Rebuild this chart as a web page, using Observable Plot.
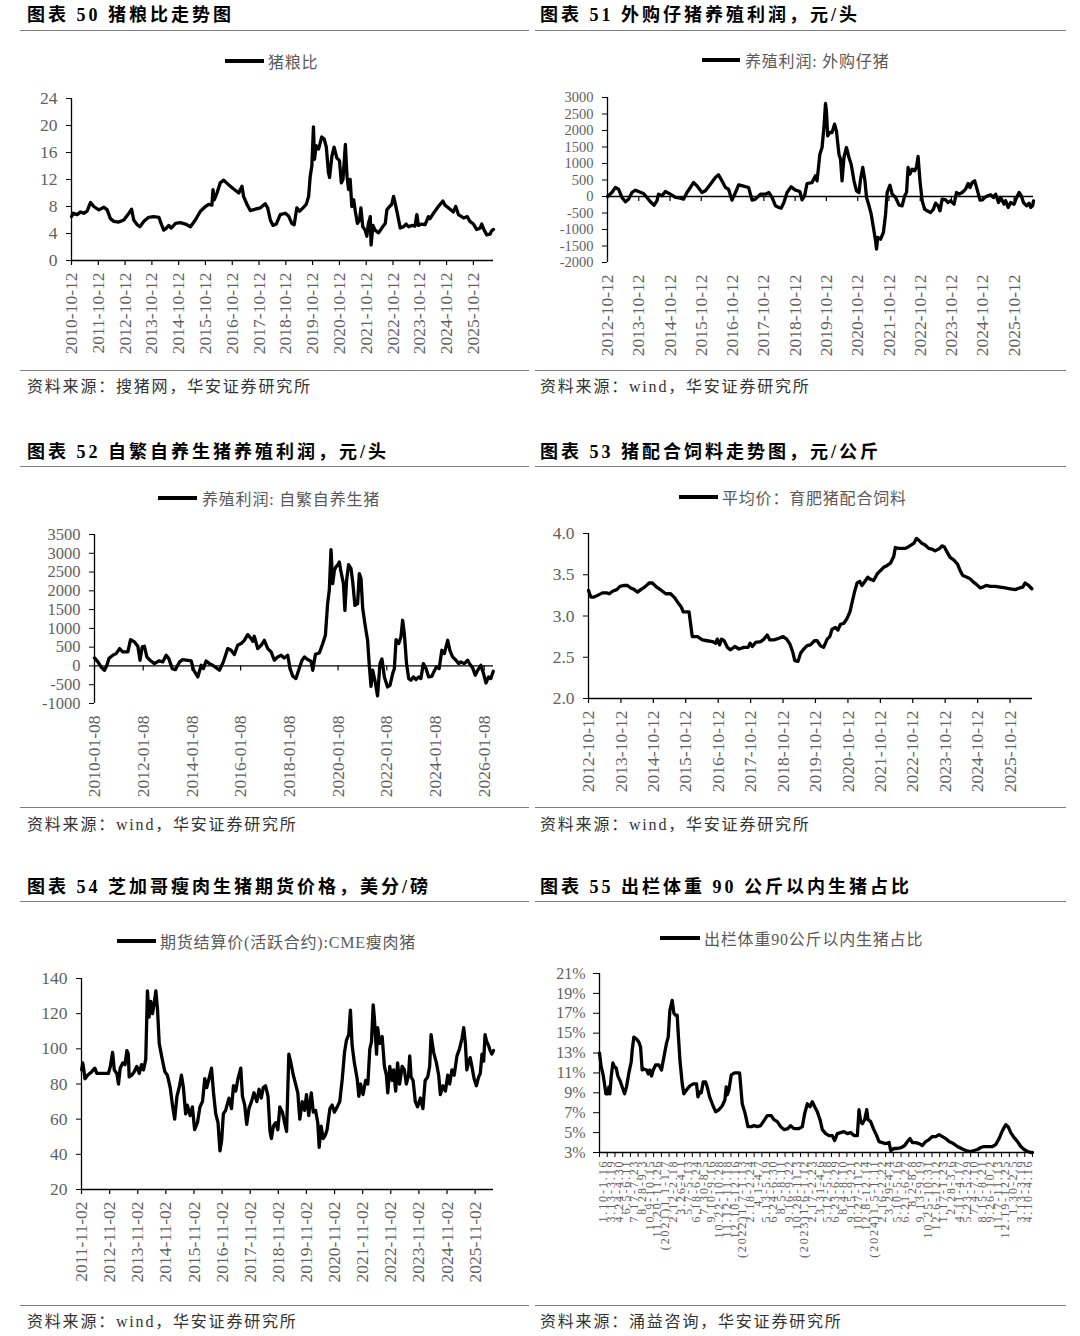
<!DOCTYPE html>
<html><head><meta charset="utf-8">
<script src="https://cdn.jsdelivr.net/npm/d3@7"></script>
<script src="https://cdn.jsdelivr.net/npm/@observablehq/plot@0.6"></script>
<style>
body{margin:0;background:#fff;}
#page{position:relative;width:1080px;height:1336px;overflow:hidden;font-family:"Liberation Serif","Noto Sans CJK SC",serif;background:#fff;}
.title{position:absolute;font-size:18px;font-weight:bold;color:#000;letter-spacing:3px;white-space:nowrap;line-height:24px;height:24px;}
.rule{position:absolute;height:0;border-top:1.6px solid #7f7f7f;}
.src{position:absolute;font-size:16px;color:#333;letter-spacing:1.8px;white-space:nowrap;line-height:24px;height:24px;}
.legend{position:absolute;font-size:16px;color:#595959;white-space:nowrap;display:flex;align-items:center;height:24px;letter-spacing:0.8px;}
.legend .sw{display:inline-block;height:3.4px;background:#000;}
#page svg{position:absolute;}
</style></head>
<body><div id="page"></div>
<script>
// ---------------- DATA ----------------
// 图表50 猪粮比 [decimal year, value]
const pigGrainRatio = [[2010.78,6.5],[2010.84,7.0],[2010.99,6.8],[2011.12,7.2],[2011.24,7.0],[2011.36,7.3],[2011.49,8.6],[2011.61,8.0],[2011.80,7.5],[2011.99,7.9],[2012.11,7.5],[2012.23,6.2],[2012.36,5.8],[2012.54,5.7],[2012.73,6.0],[2012.92,7.0],[2013.02,7.6],[2013.10,6.0],[2013.23,5.3],[2013.33,5.0],[2013.48,5.8],[2013.66,6.4],[2013.85,6.5],[2014.04,6.4],[2014.12,5.5],[2014.22,4.5],[2014.32,4.8],[2014.41,5.2],[2014.50,4.8],[2014.66,5.5],[2014.84,5.6],[2015.03,5.4],[2015.22,5.0],[2015.40,6.0],[2015.59,7.3],[2015.78,8.0],[2015.90,8.3],[2016.02,8.2],[2016.06,10.5],[2016.11,9.0],[2016.21,10.0],[2016.33,11.5],[2016.46,11.9],[2016.65,11.2],[2016.83,10.6],[2017.02,10.0],[2017.14,11.0],[2017.20,9.5],[2017.33,8.3],[2017.45,7.4],[2017.64,7.6],[2017.83,7.8],[2018.01,8.4],[2018.10,7.8],[2018.20,6.0],[2018.30,5.2],[2018.42,5.4],[2018.57,6.8],[2018.76,7.0],[2018.88,6.6],[2019.00,5.5],[2019.09,5.3],[2019.19,7.8],[2019.29,7.3],[2019.42,7.8],[2019.54,8.3],[2019.63,9.5],[2019.69,12.5],[2019.75,14.0],[2019.81,19.8],[2019.85,15.0],[2019.91,17.0],[2020.00,16.5],[2020.12,18.3],[2020.21,18.0],[2020.29,16.8],[2020.37,13.0],[2020.41,12.3],[2020.50,15.5],[2020.58,16.8],[2020.68,15.2],[2020.78,14.8],[2020.85,11.5],[2020.91,12.0],[2021.00,17.2],[2021.06,12.5],[2021.12,10.5],[2021.18,12.0],[2021.24,8.0],[2021.31,9.0],[2021.37,7.3],[2021.45,5.5],[2021.53,6.0],[2021.58,7.8],[2021.65,5.0],[2021.74,4.5],[2021.80,3.6],[2021.86,5.5],[2021.93,6.5],[2021.96,2.3],[2022.03,5.2],[2022.11,4.5],[2022.24,4.1],[2022.36,4.8],[2022.49,5.5],[2022.55,7.5],[2022.65,8.0],[2022.73,8.3],[2022.80,9.5],[2022.86,8.5],[2022.95,6.8],[2023.05,4.8],[2023.17,5.0],[2023.27,5.4],[2023.36,5.0],[2023.48,5.2],[2023.60,5.1],[2023.67,6.8],[2023.73,5.2],[2023.85,5.4],[2023.98,5.3],[2024.10,6.5],[2024.16,6.2],[2024.29,7.0],[2024.47,8.0],[2024.64,8.8],[2024.72,8.2],[2024.91,7.6],[2025.03,7.2],[2025.12,8.0],[2025.22,6.8],[2025.41,6.3],[2025.55,6.5],[2025.65,5.8],[2025.78,5.4],[2025.90,4.6],[2026.03,4.8],[2026.09,5.4],[2026.18,4.5],[2026.28,3.8],[2026.40,3.9],[2026.46,4.4],[2026.53,4.6]];
const ticks50 = ["2010-10-12","2011-10-12","2012-10-12","2013-10-12","2014-10-12","2015-10-12","2016-10-12","2017-10-12","2018-10-12","2019-10-12","2020-10-12","2021-10-12","2022-10-12","2023-10-12","2024-10-12","2025-10-12"];
const yTicks50 = [0,4,8,12,16,20,24];

// 图表51 外购仔猪养殖利润
const profitPiglet = [[2012.78,0],[2012.92,121],[2013.03,273],[2013.13,222],[2013.24,-30],[2013.35,-162],[2013.45,-81],[2013.56,121],[2013.67,192],[2013.77,152],[2013.93,91],[2014.04,-30],[2014.15,-162],[2014.27,-263],[2014.36,-131],[2014.41,71],[2014.52,20],[2014.63,152],[2014.79,71],[2014.95,-30],[2015.11,-51],[2015.21,-81],[2015.32,121],[2015.43,273],[2015.53,424],[2015.64,323],[2015.80,121],[2015.91,172],[2016.07,374],[2016.23,576],[2016.33,657],[2016.44,475],[2016.55,273],[2016.65,222],[2016.76,-111],[2016.87,121],[2016.97,354],[2017.13,313],[2017.29,273],[2017.40,-111],[2017.51,-81],[2017.67,71],[2017.83,71],[2017.94,121],[2018.04,-30],[2018.15,-283],[2018.26,-333],[2018.33,-354],[2018.42,-182],[2018.52,121],[2018.65,293],[2018.79,192],[2018.93,152],[2019.00,-101],[2019.08,20],[2019.16,394],[2019.32,424],[2019.43,626],[2019.48,475],[2019.57,1283],[2019.64,1485],[2019.70,2091],[2019.75,2818],[2019.78,2596],[2019.82,1838],[2019.89,1939],[2019.96,1939],[2020.04,2192],[2020.10,1990],[2020.18,1283],[2020.23,1131],[2020.28,475],[2020.34,1182],[2020.42,1485],[2020.50,1182],[2020.57,980],[2020.66,475],[2020.74,172],[2020.82,121],[2020.87,525],[2020.94,879],[2021.01,475],[2021.06,-30],[2021.14,-283],[2021.21,-535],[2021.28,-939],[2021.35,-1343],[2021.38,-1596],[2021.42,-1242],[2021.51,-1293],[2021.60,-1091],[2021.67,-535],[2021.72,121],[2021.81,343],[2021.88,71],[2021.99,-30],[2022.10,-263],[2022.20,-283],[2022.28,20],[2022.34,121],[2022.39,879],[2022.45,677],[2022.52,828],[2022.60,778],[2022.66,899],[2022.71,1212],[2022.77,475],[2022.84,-131],[2022.92,-384],[2023.00,-434],[2023.11,-485],[2023.20,-384],[2023.27,-202],[2023.35,-283],[2023.41,-434],[2023.48,-81],[2023.59,-101],[2023.67,-182],[2023.75,-131],[2023.86,-232],[2023.94,121],[2024.02,71],[2024.12,121],[2024.23,222],[2024.31,394],[2024.37,273],[2024.44,424],[2024.52,475],[2024.61,172],[2024.69,-111],[2024.77,-101],[2024.84,-30],[2024.93,20],[2025.03,51],[2025.12,-30],[2025.19,71],[2025.28,-182],[2025.35,-30],[2025.46,-232],[2025.51,-131],[2025.59,-333],[2025.67,-182],[2025.78,-232],[2025.86,-30],[2025.94,121],[2026.01,20],[2026.08,-182],[2026.18,-283],[2026.26,-202],[2026.31,-333],[2026.37,-283],[2026.40,-131]];
const ticks51 = ["2012-10-12","2013-10-12","2014-10-12","2015-10-12","2016-10-12","2017-10-12","2018-10-12","2019-10-12","2020-10-12","2021-10-12","2022-10-12","2023-10-12","2024-10-12","2025-10-12"];
const yTicks51 = [-2000,-1500,-1000,-500,0,500,1000,1500,2000,2500,3000];

// 图表52 自繁自养生猪养殖利润
const profitSelf = [[2010.02,213],[2010.16,107],[2010.29,-27],[2010.43,-115],[2010.53,18],[2010.61,195],[2010.77,284],[2010.91,328],[2011.05,462],[2011.18,373],[2011.29,373],[2011.39,373],[2011.50,701],[2011.66,639],[2011.80,524],[2011.89,151],[2011.98,506],[2012.07,524],[2012.17,240],[2012.30,151],[2012.48,62],[2012.66,133],[2012.82,107],[2012.96,284],[2013.07,195],[2013.21,-71],[2013.34,-98],[2013.51,107],[2013.64,169],[2013.85,151],[2013.99,133],[2014.08,-98],[2014.26,-293],[2014.40,18],[2014.49,-71],[2014.60,133],[2014.74,62],[2014.87,18],[2015.01,-44],[2015.15,-115],[2015.31,107],[2015.49,462],[2015.63,417],[2015.76,302],[2015.90,550],[2016.04,595],[2016.17,683],[2016.31,834],[2016.45,728],[2016.52,657],[2016.58,790],[2016.72,462],[2016.86,550],[2016.99,683],[2017.13,462],[2017.27,373],[2017.40,151],[2017.54,240],[2017.68,284],[2017.81,213],[2017.95,284],[2018.05,-71],[2018.16,-275],[2018.29,-337],[2018.40,-115],[2018.54,151],[2018.64,240],[2018.77,169],[2018.91,124],[2018.98,-115],[2019.09,311],[2019.25,346],[2019.39,595],[2019.50,817],[2019.59,1660],[2019.66,2015],[2019.73,3098],[2019.80,2192],[2019.87,2547],[2019.93,2636],[2020.00,2681],[2020.07,2769],[2020.14,2503],[2020.24,2192],[2020.30,1482],[2020.37,2281],[2020.45,2698],[2020.55,2592],[2020.62,2237],[2020.71,1615],[2020.82,1660],[2020.89,2459],[2020.96,2326],[2021.03,1527],[2021.14,1038],[2021.23,683],[2021.30,18],[2021.37,-541],[2021.44,-115],[2021.53,-382],[2021.64,-799],[2021.74,62],[2021.82,186],[2021.92,-293],[2022.05,-559],[2022.15,-515],[2022.26,-204],[2022.33,-71],[2022.40,701],[2022.51,595],[2022.60,772],[2022.67,1216],[2022.74,861],[2022.83,62],[2022.92,-337],[2023.01,-382],[2023.11,-293],[2023.22,-364],[2023.33,-293],[2023.42,-337],[2023.52,62],[2023.63,-71],[2023.74,-293],[2023.87,-275],[2023.97,-133],[2024.06,-27],[2024.17,-71],[2024.28,417],[2024.38,328],[2024.52,683],[2024.61,417],[2024.72,240],[2024.86,151],[2024.97,62],[2025.06,107],[2025.20,62],[2025.34,151],[2025.43,44],[2025.54,-44],[2025.65,-249],[2025.75,-115],[2025.88,18],[2025.99,-204],[2026.09,-453],[2026.20,-293],[2026.29,-337],[2026.39,-142]];
const ticks52 = ["2010-01-08","2012-01-08","2014-01-08","2016-01-08","2018-01-08","2020-01-08","2022-01-08","2024-01-08","2026-01-08"];
const yTicks52 = [-1000,-500,0,500,1000,1500,2000,2500,3000,3500];

// 图表53 育肥猪配合饲料平均价
const feedPrice = [[2012.78,3.31],[2012.85,3.23],[2012.95,3.23],[2013.06,3.25],[2013.21,3.28],[2013.34,3.28],[2013.42,3.27],[2013.52,3.30],[2013.65,3.32],[2013.75,3.36],[2013.88,3.37],[2013.98,3.37],[2014.08,3.34],[2014.19,3.32],[2014.29,3.29],[2014.39,3.32],[2014.51,3.35],[2014.65,3.40],[2014.75,3.40],[2014.88,3.35],[2015.03,3.31],[2015.16,3.27],[2015.31,3.27],[2015.44,3.22],[2015.54,3.16],[2015.64,3.11],[2015.70,3.05],[2015.81,3.05],[2015.88,3.05],[2015.93,2.90],[2015.98,2.75],[2016.14,2.75],[2016.29,2.71],[2016.44,2.70],[2016.60,2.69],[2016.70,2.67],[2016.75,2.72],[2016.82,2.65],[2016.88,2.72],[2016.96,2.70],[2017.06,2.62],[2017.16,2.59],[2017.29,2.63],[2017.42,2.60],[2017.57,2.62],[2017.70,2.62],[2017.76,2.67],[2017.83,2.63],[2017.93,2.68],[2018.09,2.69],[2018.19,2.72],[2018.29,2.77],[2018.37,2.71],[2018.50,2.71],[2018.65,2.73],[2018.78,2.75],[2018.89,2.72],[2018.99,2.66],[2019.08,2.56],[2019.14,2.46],[2019.24,2.45],[2019.32,2.55],[2019.42,2.60],[2019.52,2.64],[2019.62,2.65],[2019.75,2.70],[2019.83,2.70],[2019.93,2.64],[2020.03,2.62],[2020.14,2.72],[2020.22,2.75],[2020.29,2.84],[2020.39,2.86],[2020.47,2.83],[2020.55,2.90],[2020.65,2.91],[2020.75,2.97],[2020.84,3.05],[2020.91,3.17],[2020.98,3.29],[2021.06,3.40],[2021.14,3.42],[2021.21,3.37],[2021.32,3.43],[2021.39,3.47],[2021.45,3.45],[2021.57,3.43],[2021.68,3.51],[2021.78,3.55],[2021.88,3.59],[2021.98,3.61],[2022.09,3.64],[2022.19,3.72],[2022.24,3.83],[2022.34,3.82],[2022.45,3.82],[2022.55,3.82],[2022.65,3.84],[2022.81,3.88],[2022.89,3.94],[2022.96,3.92],[2023.06,3.88],[2023.16,3.86],[2023.27,3.82],[2023.37,3.81],[2023.47,3.79],[2023.61,3.82],[2023.68,3.85],[2023.75,3.84],[2023.83,3.78],[2023.93,3.71],[2024.04,3.68],[2024.16,3.63],[2024.24,3.55],[2024.32,3.49],[2024.45,3.47],[2024.55,3.45],[2024.65,3.41],[2024.75,3.38],[2024.86,3.34],[2024.94,3.35],[2025.04,3.37],[2025.17,3.36],[2025.32,3.36],[2025.47,3.35],[2025.63,3.34],[2025.78,3.33],[2025.94,3.32],[2026.07,3.34],[2026.17,3.35],[2026.24,3.40],[2026.35,3.37],[2026.45,3.33]];
const ticks53 = ["2012-10-12","2013-10-12","2014-10-12","2015-10-12","2016-10-12","2017-10-12","2018-10-12","2019-10-12","2020-10-12","2021-10-12","2022-10-12","2023-10-12","2024-10-12","2025-10-12"];
const yTicks53 = [2.0,2.5,3.0,3.5,4.0];

// 图表54 CME瘦肉猪期货结算价
const leanHog = [[2011.84,88],[2011.88,92],[2011.91,89],[2011.96,83],[2012.05,85],[2012.20,87],[2012.31,89],[2012.38,86],[2012.53,86],[2012.79,86],[2012.86,90],[2012.94,98],[2013.00,88],[2013.09,86],[2013.15,80],[2013.21,89],[2013.30,92],[2013.38,91],[2013.45,99],[2013.50,97],[2013.53,84],[2013.62,85],[2013.71,87],[2013.80,90],[2013.89,86],[2013.97,91],[2014.04,88],[2014.12,94],[2014.18,133],[2014.24,118],[2014.30,127],[2014.36,120],[2014.42,126],[2014.48,133],[2014.54,122],[2014.60,103],[2014.66,98],[2014.72,93],[2014.80,87],[2014.89,85],[2014.99,78],[2015.07,68],[2015.15,60],[2015.23,73],[2015.31,78],[2015.39,85],[2015.46,78],[2015.54,63],[2015.60,68],[2015.70,62],[2015.78,67],[2015.86,54],[2015.96,58],[2016.05,67],[2016.14,70],[2016.22,83],[2016.29,78],[2016.37,83],[2016.46,89],[2016.53,75],[2016.61,63],[2016.69,58],[2016.76,42],[2016.82,48],[2016.88,63],[2016.96,65],[2017.08,72],[2017.17,66],[2017.24,79],[2017.32,76],[2017.40,83],[2017.50,89],[2017.56,73],[2017.64,68],[2017.71,57],[2017.79,66],[2017.88,70],[2017.97,75],[2018.07,70],[2018.15,77],[2018.23,72],[2018.30,78],[2018.38,79],[2018.47,73],[2018.54,53],[2018.59,49],[2018.66,56],[2018.74,58],[2018.82,54],[2018.89,67],[2018.98,64],[2019.06,58],[2019.13,53],[2019.21,97],[2019.27,93],[2019.37,85],[2019.45,80],[2019.53,75],[2019.60,60],[2019.69,70],[2019.77,65],[2019.84,74],[2019.92,62],[2020.01,75],[2020.08,64],[2020.16,65],[2020.24,58],[2020.29,44],[2020.36,56],[2020.43,49],[2020.51,51],[2020.57,54],[2020.67,66],[2020.75,68],[2020.83,64],[2020.93,67],[2021.02,70],[2021.11,83],[2021.19,98],[2021.26,105],[2021.34,108],[2021.40,122],[2021.46,102],[2021.54,92],[2021.64,83],[2021.70,73],[2021.76,80],[2021.85,74],[2021.94,82],[2022.02,80],[2022.09,100],[2022.15,104],[2022.21,125],[2022.25,118],[2022.33,97],[2022.37,112],[2022.44,103],[2022.53,107],[2022.61,90],[2022.68,85],[2022.73,75],[2022.80,90],[2022.88,82],[2022.94,88],[2023.01,76],[2023.08,92],[2023.15,80],[2023.24,90],[2023.32,88],[2023.39,80],[2023.47,85],[2023.51,96],[2023.56,84],[2023.63,82],[2023.71,70],[2023.79,67],[2023.89,72],[2023.98,66],[2024.06,82],[2024.15,84],[2024.22,90],[2024.27,108],[2024.36,98],[2024.46,92],[2024.54,85],[2024.60,74],[2024.69,79],[2024.78,76],[2024.86,85],[2024.93,80],[2025.01,88],[2025.09,85],[2025.19,96],[2025.28,100],[2025.37,106],[2025.43,112],[2025.49,103],[2025.54,88],[2025.60,92],[2025.66,95],[2025.72,90],[2025.80,83],[2025.88,79],[2025.96,84],[2026.02,86],[2026.08,97],[2026.14,93],[2026.19,108],[2026.25,104],[2026.31,102],[2026.37,99],[2026.43,97],[2026.49,99]];
const ticks54 = ["2011-11-02","2012-11-02","2013-11-02","2014-11-02","2015-11-02","2016-11-02","2017-11-02","2018-11-02","2019-11-02","2020-11-02","2021-11-02","2022-11-02","2023-11-02","2024-11-02","2025-11-02"];
const yTicks54 = [20,40,60,80,100,120,140];

// 图表55 出栏体重90公斤以内生猪占比 [category position, %]
const weekLabels = ["1.10-1.16","3.13-3.19","4.24-4.30","6.5-6.11","7.17-7.23","8.28-9.3","10.9-10.15","11.20-11.26","(2021)1.1-1.7","2.12-2.18","3.26-4.1","5.7-5.13","6.18-6.24","7.30-8.5","9.10-9.16","10.22-10.28","11.12-11.18","12.10-12.16","(2022)1.7-1.13","2.18-2.24","4.1-4.7","5.13-5.19","6.24-6.30","8.5-8.11","9.16-9.22","10.28-11.3","(2023)1.6-1.12","2.17-2.23","3.31-4.6","5.12-5.18","6.23-6.29","8.4-8.10","9.15-9.21","10.27-11.2","12.8-12.14","(2024)1.5-1.11","2.16-2.22","3.29-4.4","5.10-5.16","6.21-6.27","8.2-8.8","9.13-9.19","10.25-10.31","12.6-12.12","1.17-1.23","2.28-3.6","4.11-4.17","5.23-5.29","7.4-7.10","8.15-8.21","9.26-10.2","11.7-11.13","12.19-12.25","1.30-2.5","3.13-3.19","4.10-4.16"];
const lightPigShare = [[0,13.0],[0.22,11.6],[0.47,10.8],[0.65,9.9],[0.82,8.9],[1.08,8.9],[1.21,9.6],[1.34,8.9],[1.51,10.6],[1.73,12.0],[1.94,11.6],[2.16,11.5],[2.37,10.7],[2.72,10.1],[3.06,9.3],[3.24,8.9],[3.49,9.6],[3.80,11.0],[4.10,12.1],[4.23,13.3],[4.44,14.6],[4.79,14.4],[5.09,14.1],[5.31,13.6],[5.52,11.3],[5.74,11.4],[6.08,11.3],[6.30,10.9],[6.51,11.3],[6.73,10.7],[6.95,11.3],[7.25,11.8],[7.68,11.8],[8.02,11.3],[8.33,12.6],[8.67,14.0],[8.89,14.6],[9.10,17.3],[9.40,18.3],[9.62,17.0],[9.84,16.8],[10.05,16.8],[10.18,15.0],[10.40,12.3],[10.70,9.9],[10.91,8.9],[11.26,9.3],[11.69,9.7],[12.12,9.9],[12.55,9.9],[12.73,8.6],[12.99,9.1],[13.16,9.0],[13.42,10.1],[13.72,10.1],[13.93,9.6],[14.24,8.6],[14.58,7.9],[15.01,7.1],[15.44,7.3],[15.88,7.7],[16.22,8.3],[16.39,9.6],[16.52,8.8],[16.74,9.3],[17.04,10.8],[17.26,10.9],[17.47,11.0],[17.82,11.0],[18.12,11.0],[18.46,7.9],[18.77,7.1],[18.98,6.4],[19.20,5.6],[19.63,5.6],[19.97,5.7],[20.41,5.6],[20.84,5.7],[21.27,6.2],[21.70,6.7],[22.22,6.7],[22.56,6.3],[23.00,6.1],[23.43,5.6],[23.86,5.3],[24.37,5.4],[24.72,5.7],[25.15,5.4],[25.80,5.4],[26.23,5.6],[26.53,6.9],[26.88,7.9],[27.22,7.6],[27.52,8.1],[27.83,7.6],[28.17,7.1],[28.52,6.3],[28.82,5.3],[29.25,4.9],[29.68,4.7],[30.11,4.7],[30.41,4.2],[30.76,4.9],[31.19,5.0],[31.62,5.1],[32.05,4.9],[32.48,5.0],[32.92,4.7],[33.35,4.7],[33.56,7.3],[33.78,6.1],[34.00,5.9],[34.30,6.3],[34.56,7.3],[34.73,6.3],[35.07,6.1],[35.42,5.4],[35.85,4.7],[36.15,4.1],[36.58,4.0],[37.01,3.9],[37.45,4.0],[37.66,3.2],[38.09,3.4],[38.52,3.4],[39.04,3.5],[39.47,3.7],[39.82,4.1],[40.16,4.4],[40.47,4.0],[40.90,4.0],[41.33,3.9],[41.76,3.7],[42.19,4.1],[42.62,4.3],[43.05,4.6],[43.49,4.6],[43.92,4.8],[44.35,4.6],[44.78,4.4],[45.21,4.1],[45.77,3.9],[46.29,3.6],[46.81,3.4],[47.37,3.2],[47.93,3.1],[48.45,3.2],[48.88,3.3],[49.31,3.5],[49.74,3.6],[50.26,3.6],[50.82,3.6],[51.25,3.8],[51.68,4.4],[52.11,5.2],[52.55,5.8],[52.85,5.6],[53.19,5.0],[53.62,4.5],[54.06,4.1],[54.49,3.6],[54.92,3.3],[55.35,3.1],[55.78,3.0],[56.00,3.0]];
const yTicks55 = [3,5,7,9,11,13,15,17,19,21];

// ---------------- LAYOUT HELPERS ----------------
const FONT = '"Liberation Serif","Noto Sans CJK SC",serif';
const page = document.getElementById("page");
const parseDay = d3.utcParse("%Y-%m-%d");
const fmtDay = d3.utcFormat("%Y-%m-%d");
function yearToDate(y){const yr=Math.floor(y);const s=Date.UTC(yr,0,1);const e=Date.UTC(yr+1,0,1);return new Date(s+(y-yr)*(e-s));}

function addDiv(cls, text, left, cy){const d=document.createElement("div");d.className=cls;d.textContent=text;d.style.left=left+"px";d.style.top=(cy-12)+"px";page.appendChild(d);return d;}
function addRule(left, right, y){const d=document.createElement("div");d.className="rule";d.style.left=left+"px";d.style.width=(right-left)+"px";d.style.top=(y-0.8)+"px";page.appendChild(d);}
function addLegend(swL, swR, textL, cy, text){const d=document.createElement("div");d.className="legend";d.style.left=swL+"px";d.style.top=(cy-12)+"px";const s=document.createElement("span");s.className="sw";s.style.width=(swR-swL)+"px";s.style.marginRight=(textL-swR)+"px";d.appendChild(s);const t=document.createElement("span");t.textContent=text;d.appendChild(t);page.appendChild(d);}

function margins(box, rect){return {width:box.width,height:box.height,marginLeft:rect.l-box.left,marginRight:box.left+box.width-rect.r,marginTop:rect.t-box.top,marginBottom:box.top+box.height-rect.b};}
function placeSvg(svg, box){svg.style.left=box.left+"px";svg.style.top=box.top+"px";page.appendChild(svg);}

const plotStyle = {fontFamily:FONT,fontSize:"17px",background:"transparent",overflow:"visible",color:"#000"};
const LINE_W = 3.3;

function timePanel({box, rect, tickLabels, xEnd, yDomain, yTicks, yFormat, series, zeroAxis, yFont = 17.5}){
  const ticks = tickLabels.map(parseDay);
  const base = zeroAxis ? 0 : yDomain[0];
  const svg = Plot.plot({
    ...margins(box, rect),
    style: plotStyle,
    x: {type:"utc", domain:[ticks[0], yearToDate(xEnd)]},
    y: {domain: yDomain},
    marks: [
      Plot.ruleY([base], {stroke:"#000", strokeWidth:1.3}),
      Plot.ruleX(ticks, {x:d=>d, y1:base, y2:base, insetBottom:-5, stroke:"#000", strokeWidth:1.2}),
      Plot.axisY(yTicks, {anchor:"left", tickSize:5, tickPadding:9, tickFormat:yFormat, stroke:"#000", fill:"#5f5f5f", fontSize:yFont}),
      Plot.axisX(ticks, {anchor:"bottom", tickSize:0, tickPadding:12, tickRotate:-90, tickFormat:fmtDay, fill:"#5f5f5f", fontSize:17.5}),
      Plot.ruleX([ticks[0]], {stroke:"#000", strokeWidth:1.3}),
      Plot.line(series, {x:d=>yearToDate(d[0]), y:d=>d[1], stroke:"#000", strokeWidth:LINE_W, strokeLinejoin:"round", strokeLinecap:"round"})
    ]
  });
  placeSvg(svg, box);
}

// ---------------- PANEL TEXT ----------------
const L = 27, R = 540;
addDiv("title","图表 50  猪粮比走势图",L,15);
addDiv("title","图表 51  外购仔猪养殖利润，元/头",R,15);
addDiv("title","图表 52  自繁自养生猪养殖利润，元/头",L,452);
addDiv("title","图表 53  猪配合饲料走势图，元/公斤",R,452);
addDiv("title","图表 54 芝加哥瘦肉生猪期货价格，美分/磅",L,887);
addDiv("title","图表 55 出栏体重 90 公斤以内生猪占比",R,887);
[[31,371],[467,808],[902,1306]].forEach(([a,b])=>{addRule(20,529,a);addRule(535,1066,a);addRule(20,529,b);addRule(535,1066,b);});
addDiv("src","资料来源：搜猪网，华安证券研究所",L,387);
addDiv("src","资料来源：wind，华安证券研究所",R,387);
addDiv("src","资料来源：wind，华安证券研究所",L,825);
addDiv("src","资料来源：wind，华安证券研究所",R,825);
addDiv("src","资料来源：wind，华安证券研究所",L,1322);
addDiv("src","资料来源：涌益咨询，华安证券研究所",R,1322);

addLegend(225,264,268,61,"猪粮比");
addLegend(702,740,745,60,"养殖利润: 外购仔猪");
addLegend(158,197,202,498,"养殖利润: 自繁自养生猪");
addLegend(679,718,722,497,"平均价：育肥猪配合饲料");
addLegend(117,156,160,941,"期货结算价(活跃合约):CME瘦肉猪");
addLegend(660,700,704,938,"出栏体重90公斤以内生猪占比");

// ---------------- CHARTS ----------------
const num = d=>String(d);
timePanel({box:{left:20,top:85,width:510,height:285}, rect:{l:71,r:493,t:98,b:260}, tickLabels:ticks50, xEnd:2026.53, yDomain:[0,24], yTicks:yTicks50, yFormat:num, series:pigGrainRatio});
timePanel({box:{left:535,top:85,width:530,height:285}, rect:{l:607,r:1033,t:97,b:262}, tickLabels:ticks51, xEnd:2026.40, yDomain:[-2000,3000], yTicks:yTicks51, yFormat:num, series:profitPiglet, zeroAxis:true, yFont:14.5});
timePanel({box:{left:20,top:522,width:510,height:285}, rect:{l:94,r:493,t:534,b:703}, tickLabels:ticks52, xEnd:2026.40, yDomain:[-1000,3500], yTicks:yTicks52, yFormat:num, series:profitSelf, zeroAxis:true, yFont:16.5});
timePanel({box:{left:535,top:522,width:530,height:285}, rect:{l:588,r:1032,t:533,b:698}, tickLabels:ticks53, xEnd:2026.47, yDomain:[2,4], yTicks:yTicks53, yFormat:d3.format(".1f"), series:feedPrice});
timePanel({box:{left:20,top:965,width:510,height:335}, rect:{l:81,r:493,t:978,b:1189}, tickLabels:ticks54, xEnd:2026.49, yDomain:[20,140], yTicks:yTicks54, yFormat:num, series:leanHog});

// Panel 55 (category axis)
(function(){
  const box={left:535,top:962,width:530,height:340}, rect={l:599,r:1032,t:973,b:1152};
  const n = weekLabels.length;
  const tickPos = d3.range(n+1);
  const labelPos = d3.range(n).map(i=>i+0.5);
  const svg = Plot.plot({
    ...margins(box, rect),
    style: plotStyle,
    x: {type:"linear", domain:[0,n]},
    y: {domain:[3,21]},
    marks: [
      Plot.ruleY([3], {stroke:"#000", strokeWidth:1.3}),
      Plot.ruleX(tickPos, {x:d=>d, y1:3, y2:3, insetBottom:-5, stroke:"#000", strokeWidth:1}),
      Plot.axisY(yTicks55, {anchor:"left", tickSize:6, tickPadding:8, tickFormat:d=>d+"%", stroke:"#000", fill:"#5f5f5f", fontSize:16}),
      Plot.axisX(labelPos, {anchor:"bottom", tickSize:0, tickPadding:7, tickRotate:-90, tickFormat:d=>weekLabels[Math.floor(d)], fill:"#5f5f5f", fontSize:12}),
      Plot.ruleX([0], {stroke:"#000", strokeWidth:1.3}),
      Plot.line(lightPigShare, {x:d=>d[0], y:d=>d[1], stroke:"#000", strokeWidth:LINE_W, strokeLinejoin:"round", strokeLinecap:"round"})
    ]
  });
  d3.select(svg).selectAll('g[aria-label="x-axis tick label"] text').style("letter-spacing","1.9px");
  placeSvg(svg, box);
})();
</script></body></html>
